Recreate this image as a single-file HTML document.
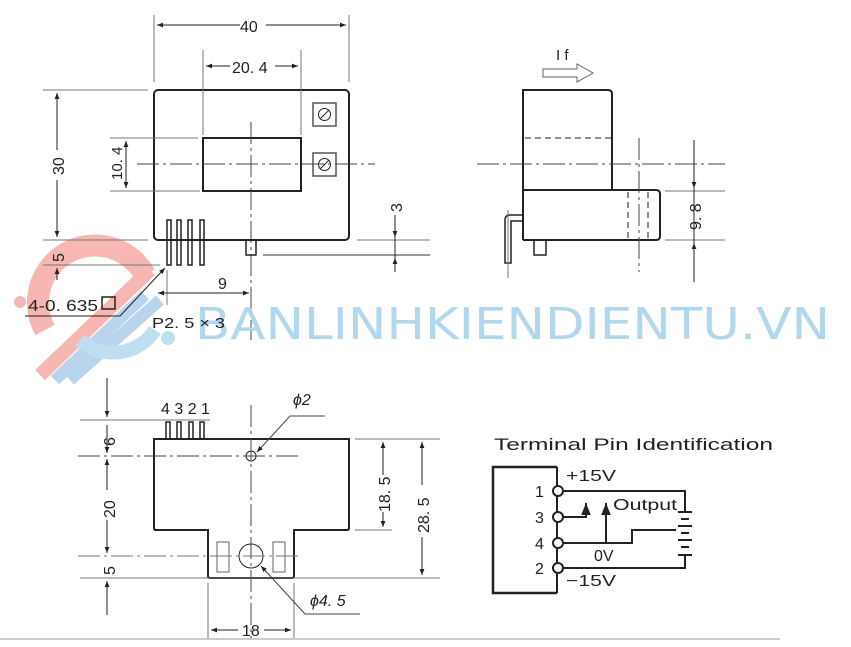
<!DOCTYPE html>
<html><head><meta charset="utf-8"><style>
html,body{margin:0;padding:0;background:#fff;}
svg{display:block;}
text{font-family:"Liberation Sans",sans-serif;fill:#222;}
.n{font-family:"Liberation Sans Narrow","Liberation Sans",sans-serif;}
</style></head><body>
<svg width="851" height="647" viewBox="0 0 851 647" xmlns="http://www.w3.org/2000/svg">
<defs>
<marker id="a" viewBox="0 0 10 10" refX="10" refY="5" markerWidth="8" markerHeight="6" orient="auto-start-reverse"><path d="M0,1 L10,5 L0,9z" fill="#222"/></marker>
</defs>
<g fill="none" stroke="#222" stroke-width="1">
<g opacity="0.55">
<path d="M45,330 A55,55 0 0 1 145,275" stroke="#f07c74" stroke-width="22"/>
<path d="M40,375 L150,270" stroke="#f07c74" stroke-width="14"/>
<path d="M55,380 L145,295 M70,380 L160,300" stroke="#7fb3e0" stroke-width="12"/>
<path d="M80,340 A50,50 0 0 0 155,330" stroke="#8cc6e6" stroke-width="14"/>
<circle cx="20" cy="302" r="6" fill="#f07c74" stroke="none"/>
<circle cx="168" cy="338" r="7" fill="#8cc6e6" stroke="none"/>
</g>
<rect x="154" y="90" width="195" height="150" rx="4" stroke-width="2"/>
<rect x="203" y="138" width="98" height="53" stroke-width="2"/>
<rect x="313" y="103" width="23" height="23" stroke="#555" stroke-width="1.5"/>
<rect x="313" y="153" width="23" height="23" stroke="#555" stroke-width="1.5"/>
<circle cx="324.5" cy="114.5" r="6"/><line x1="320" y1="119" x2="329" y2="110"/>
<circle cx="324.5" cy="164.5" r="6"/><line x1="320" y1="169" x2="329" y2="160"/>
<line x1="137" y1="164" x2="375" y2="164" stroke-dasharray="22,4,3,4" stroke="#444"/>
<line x1="251" y1="122" x2="251" y2="340" stroke-dasharray="22,4,3,4" stroke="#444"/>
<g stroke-width="1.5"><rect x="167" y="220" width="4" height="45"/><rect x="177" y="220" width="4" height="45"/><rect x="188" y="220" width="4" height="45"/><rect x="200" y="220" width="4" height="45"/></g>
<rect x="246" y="240" width="10" height="15" stroke-width="1.5"/>
<g stroke="#777"><line x1="154" y1="15" x2="154" y2="82"/><line x1="349" y1="15" x2="349" y2="82"/>
<line x1="203" y1="50" x2="203" y2="135"/><line x1="301" y1="50" x2="301" y2="135"/>
<line x1="43" y1="90" x2="148" y2="90"/><line x1="43" y1="240" x2="148" y2="240"/><line x1="43" y1="265" x2="160" y2="265"/>
<line x1="110" y1="138" x2="198" y2="138"/><line x1="110" y1="191" x2="200" y2="191"/>
<line x1="357" y1="240" x2="430" y2="240"/><line x1="263" y1="255" x2="430" y2="255" stroke-width="1.5"/>
<line x1="167" y1="270" x2="167" y2="305"/></g>
<line x1="157" y1="25" x2="240" y2="25" marker-start="url(#a)"/><line x1="266" y1="25" x2="346" y2="25" marker-end="url(#a)"/>
<line x1="206" y1="66" x2="230" y2="66" marker-start="url(#a)"/><line x1="275" y1="66" x2="298" y2="66" marker-end="url(#a)"/>
<line x1="57" y1="93" x2="57" y2="150" marker-start="url(#a)"/><line x1="57" y1="180" x2="57" y2="237" marker-end="url(#a)"/>
<line x1="126" y1="141" x2="126" y2="188" marker-start="url(#a)" marker-end="url(#a)"/>
<line x1="57" y1="280" x2="57" y2="268" marker-end="url(#a)"/>
<line x1="395" y1="215" x2="395" y2="237" marker-end="url(#a)"/><line x1="395" y1="272" x2="395" y2="258" marker-end="url(#a)"/><line x1="395" y1="237" x2="395" y2="258"/>
<line x1="158" y1="293" x2="205" y2="293" marker-start="url(#a)"/><line x1="205" y1="293" x2="249" y2="293" marker-end="url(#a)"/>
<path d="M25,316 L120,316 L165,268" marker-end="url(#a)"/>
<path d="M523,240 V90 H608 Q612,90 612,94 V190" stroke-width="2"/>
<path d="M523,190 H656 Q660,190 660,194 V236 Q660,240 656,240 H523" stroke-width="2"/>
<line x1="525" y1="138" x2="612" y2="138" stroke-dasharray="6,4"/>
<line x1="628" y1="192" x2="628" y2="240" stroke-dasharray="6,4"/><line x1="648" y1="192" x2="648" y2="240" stroke-dasharray="6,4"/>
<line x1="477" y1="164" x2="725" y2="164" stroke-dasharray="22,4,3,4" stroke="#444"/>
<line x1="639" y1="138" x2="639" y2="272" stroke-dasharray="22,4,3,4" stroke="#444"/>
<path d="M505,263 V220 Q505,215 510,215 H523 V221 H511 V263 Z" stroke-width="1.5"/>
<rect x="534" y="240" width="12" height="15" stroke-width="1.5"/>
<line x1="508" y1="210" x2="508" y2="278" stroke="#777"/>
<line x1="665" y1="191" x2="725" y2="191" stroke="#777"/><line x1="665" y1="240" x2="725" y2="240" stroke="#777"/>
<line x1="694" y1="140" x2="694" y2="188" marker-end="url(#a)"/><line x1="694" y1="282" x2="694" y2="243" marker-end="url(#a)"/><line x1="694" y1="188" x2="694" y2="243"/>
<path d="M543,69 H577 V64 L593,73 L577,82 V77 H543 Z" stroke="#666"/>
<path d="M154,439 H349 V528 Q349,530 347,530 H294 V576 Q294,578 292,578 H210 Q208,578 208,576 V530 H156 Q154,530 154,528 Z" stroke-width="2"/>
<g stroke-width="1.5"><rect x="166" y="422" width="4" height="17"/><rect x="177" y="422" width="4" height="17"/><rect x="189" y="422" width="4" height="17"/><rect x="200" y="422" width="4" height="17"/></g>
<circle cx="251" cy="456" r="5"/><circle cx="251" cy="556" r="12"/>
<rect x="217" y="542" width="12" height="30" stroke="#666"/><rect x="273" y="542" width="12" height="30" stroke="#666"/>
<line x1="78" y1="456" x2="300" y2="456" stroke-dasharray="22,4,3,4" stroke="#444"/>
<line x1="78" y1="556" x2="300" y2="556" stroke-dasharray="22,4,3,4" stroke="#777"/>
<line x1="251" y1="405" x2="251" y2="640" stroke-dasharray="22,4,3,4" stroke="#444"/>
<g stroke="#777"><line x1="80" y1="420" x2="210" y2="420"/><line x1="80" y1="578" x2="440" y2="578"/>
<line x1="355" y1="439" x2="440" y2="439"/><line x1="355" y1="530" x2="392" y2="530"/>
<line x1="208" y1="583" x2="208" y2="640"/><line x1="294" y1="583" x2="294" y2="640"/></g>
<line x1="107" y1="378" x2="107" y2="417" marker-end="url(#a)"/>
<line x1="107" y1="425" x2="107" y2="453" marker-end="url(#a)"/>
<line x1="107" y1="490" x2="107" y2="459" marker-end="url(#a)"/><line x1="107" y1="520" x2="107" y2="553" marker-end="url(#a)"/>
<line x1="107" y1="615" x2="107" y2="581" marker-end="url(#a)"/>
<line x1="383" y1="475" x2="383" y2="442" marker-end="url(#a)"/><line x1="383" y1="512" x2="383" y2="527" marker-end="url(#a)"/>
<line x1="422" y1="485" x2="422" y2="442" marker-end="url(#a)"/><line x1="422" y1="537" x2="422" y2="575" marker-end="url(#a)"/>
<line x1="238" y1="630" x2="211" y2="630" marker-end="url(#a)"/><line x1="264" y1="630" x2="291" y2="630" marker-end="url(#a)"/>
<path d="M325,416 L290,416 L257,452" stroke="#444" marker-end="url(#a)"/>
<path d="M360,614 L305,614 L261,566" stroke="#444" marker-end="url(#a)"/>
<path d="M557,467 H493 V593 H557" stroke-width="2.5"/>
<line x1="557" y1="467" x2="557" y2="593" stroke-width="2"/>
<g stroke-width="2">
<path d="M564,491 H685 V512"/><path d="M564,517 H586 V503" marker-end="url(#a)"/>
<path d="M606,543 V503" marker-end="url(#a)"/>
<path d="M564,543 H632 V530 H676"/><path d="M564,568 H685 V556"/>
<path d="M678,512 H692 M681,519 H689 M678,526 H692 M681,533 H689 M678,540 H692 M681,547 H689 M678,555 H692"/>
</g>
<g fill="#fff" stroke-width="2"><circle cx="558" cy="491" r="5"/><circle cx="558" cy="517" r="5"/><circle cx="558" cy="543" r="5"/><circle cx="558" cy="568" r="5"/></g>
<line x1="0" y1="639" x2="780" y2="639" stroke="#ccc" stroke-width="2"/>
</g>
<text x="195" y="339" font-size="44" textLength="635" lengthAdjust="spacingAndGlyphs" style="fill:#a9d3ea;font-family:'DejaVu Sans',sans-serif;" opacity="0.9">BANLINHKIENDIENTU.VN</text>
<g class="n" font-size="16">
<text x="240" y="32">40</text>
<text x="232" y="73">20. 4</text>
<text x="218" y="289">9</text>
<text transform="translate(64,175) rotate(-90)">30</text>
<text transform="translate(122,180) rotate(-90)" font-size="15">10. 4</text>
<text transform="translate(64,262) rotate(-90)">5</text>
<text transform="translate(402,212) rotate(-90)">3</text>
<text x="28" y="311" textLength="70" lengthAdjust="spacingAndGlyphs">4-0. 635</text>
<rect x="102" y="297" width="13" height="12" fill="none" stroke="#222" stroke-width="1.5"/>
<text x="152" y="328" font-size="15" textLength="73" lengthAdjust="spacingAndGlyphs">P2. 5 × 3</text>
<text x="556" y="60" font-size="15">I f</text>
<text transform="translate(701,230) rotate(-90)">9. 8</text>
<text x="161" y="414" font-size="16">4 3 2 1</text>
<text x="293" y="405" font-style="italic">ϕ2</text>
<text x="310" y="606" font-style="italic">ϕ4. 5</text>
<text x="242" y="636">18</text>
<text transform="translate(115,446) rotate(-90)">6</text>
<text transform="translate(115,518) rotate(-90)">20</text>
<text transform="translate(115,575) rotate(-90)">5</text>
<text transform="translate(390,512) rotate(-90)">18. 5</text>
<text transform="translate(429,533) rotate(-90)">28. 5</text>
<text x="494" y="450" font-size="17" textLength="279" lengthAdjust="spacingAndGlyphs">Terminal Pin Identification</text>
<text x="566" y="481" textLength="50" lengthAdjust="spacingAndGlyphs">+15V</text><text x="566" y="586" textLength="50" lengthAdjust="spacingAndGlyphs">−15V</text>
<text x="535" y="497">1</text><text x="535" y="523">3</text><text x="535" y="549">4</text><text x="535" y="574">2</text>
<text x="613" y="510" textLength="64" lengthAdjust="spacingAndGlyphs">Output</text><text x="594" y="561">0V</text>
</g>
</svg>
</body></html>
